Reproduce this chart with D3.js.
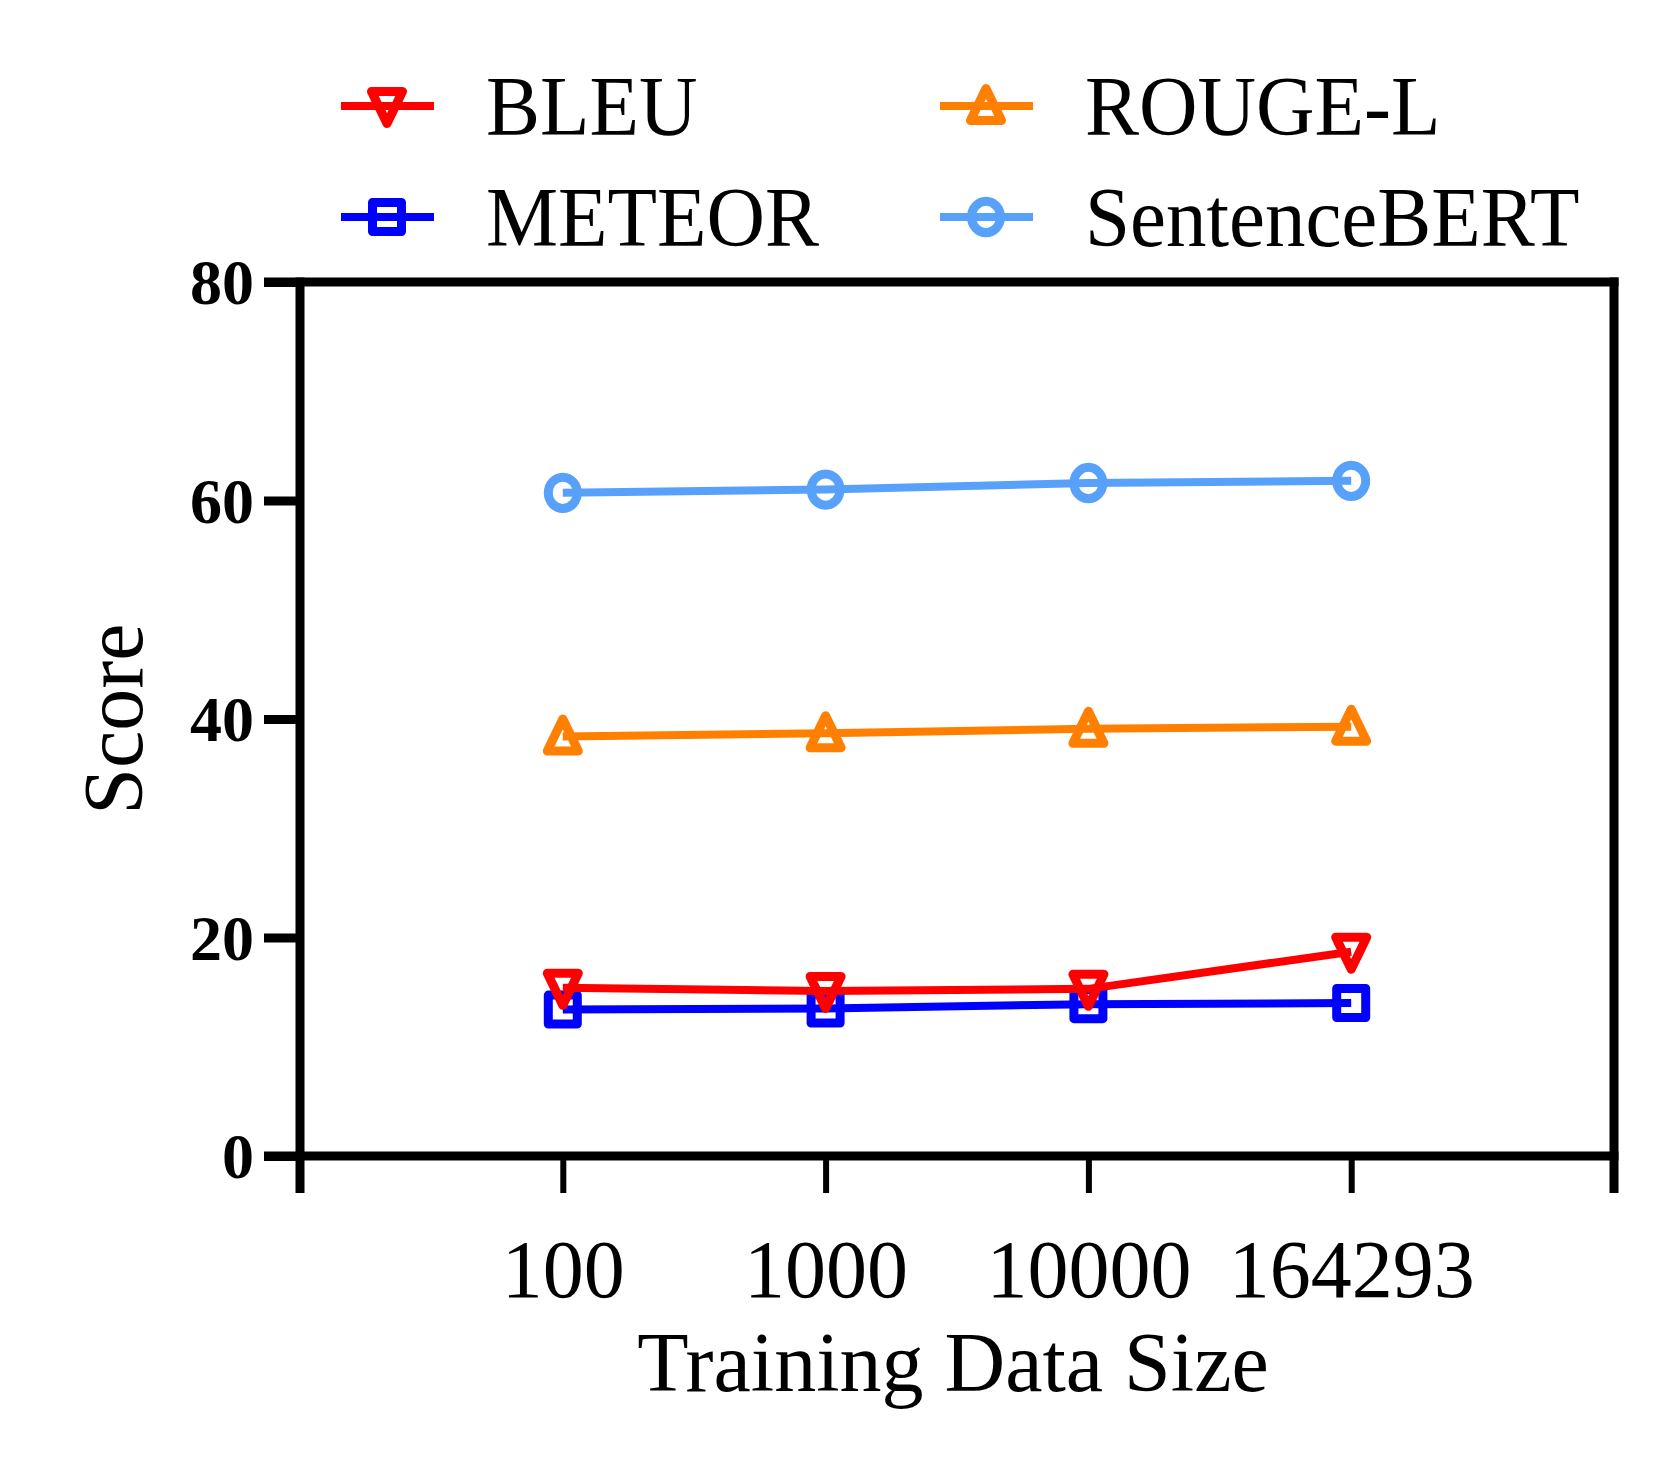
<!DOCTYPE html>
<html>
<head>
<meta charset="utf-8">
<script src="https://cdn.jsdelivr.net/npm/d3@7"></script>
<style>
  html, body { margin: 0; padding: 0; background: #fff; }
  text { font-family: "Liberation Serif", "Times New Roman", serif; }
</style>
</head>
<body>
<svg id="chart" width="1659" height="1474"></svg>
<script>
// ---- data ----
const categories = ["100", "1000", "10000", "164293"];
const bleu = [15.4, 15.1, 15.3, 18.7];
const meteor = [13.4, 13.5, 13.9, 14.0];
const rougeL = [38.4, 38.7, 39.1, 39.3];
const sentenceBert = [60.7, 61.0, 61.6, 61.8];
const yTicks = [0, 20, 40, 60, 80];
const seriesNames = ["BLEU", "METEOR", "ROUGE-L", "SentenceBERT"];

const series = [
  { name: "SentenceBERT", values: sentenceBert, color: "#58A1FA", marker: "circle" },
  { name: "ROUGE-L", values: rougeL, color: "#FF8000", marker: "triUp" },
  { name: "METEOR", values: meteor, color: "#0000FF", marker: "square" },
  { name: "BLEU", values: bleu, color: "#FF0000", marker: "triDown" }
];

const svg = d3.select("#chart");
const L = 300, R = 1614, T = 282, B = 1156;

const x = d3.scalePoint().domain(categories).range([L, R]).padding(1);
const y = d3.scaleLinear().domain([0, 80]).range([B, T]);

const axisW = 9;

// y axis ticks
const gy = svg.append("g").attr("transform", `translate(${L},0)`)
  .call(d3.axisLeft(y).tickValues(yTicks).tickSize(36).tickSizeOuter(0).tickPadding(10));
gy.select(".domain").remove();
gy.selectAll(".tick line").attr("stroke", "#000").attr("stroke-width", axisW);
gy.selectAll(".tick text")
  .attr("font-size", 64).attr("font-weight", "bold").attr("fill", "#000")
  .attr("font-family", "Liberation Serif").attr("dy", "0.34em");

// x axis ticks
const gx = svg.append("g").attr("transform", `translate(0,${B})`)
  .call(d3.axisBottom(x).tickSize(37).tickSizeOuter(0).tickPadding(46));
gx.select(".domain").remove();
gx.selectAll(".tick line").attr("stroke", "#000").attr("stroke-width", 6);
gx.selectAll(".tick text")
  .attr("font-size", 82).attr("fill", "#000").attr("font-family", "Liberation Serif");

// frame
const frame = svg.append("g").attr("stroke", "#000").attr("stroke-width", axisW).attr("fill", "none");
frame.append("line").attr("x1", L - 36).attr("x2", R + axisW / 2).attr("y1", T).attr("y2", T);
frame.append("line").attr("x1", L - 36).attr("x2", R + axisW / 2).attr("y1", B).attr("y2", B);
frame.append("line").attr("x1", L).attr("x2", L).attr("y1", T - axisW / 2).attr("y2", B + 37);
frame.append("line").attr("x1", R).attr("x2", R).attr("y1", T - axisW / 2).attr("y2", B + 37);

// axis titles
svg.append("text").attr("x", (L + R) / 2 - 4).attr("y", 1391).attr("text-anchor", "middle")
  .attr("font-size", 84).attr("fill", "#000").text("Training Data Size");
svg.append("text").attr("transform", `translate(142,${(T + B) / 2}) rotate(-90)`)
  .attr("text-anchor", "middle").attr("font-size", 84).attr("fill", "#000").text("Score");

// marker
function drawMarker(g, type, cx, cy, color) {
  const s = 14.5;
  const sw = 9;
  if (type === "circle") {
    g.append("ellipse").attr("cx", cx).attr("cy", cy).attr("rx", s).attr("ry", s * 1.08)
      .attr("fill", "none").attr("stroke", color).attr("stroke-width", sw);
  } else if (type === "square") {
    g.append("rect").attr("x", cx - s).attr("y", cy - s).attr("width", 2 * s).attr("height", 2 * s)
      .attr("fill", "none").attr("stroke", color).attr("stroke-width", sw).attr("stroke-linejoin", "round");
  } else if (type === "triUp") {
    g.append("path").attr("d", `M${cx},${cy - s - 3} L${cx + s + 1},${cy + s} L${cx - s - 1},${cy + s} Z`)
      .attr("fill", "none").attr("stroke", color).attr("stroke-width", sw).attr("stroke-linejoin", "round");
  } else {
    g.append("path").attr("d", `M${cx},${cy + s + 3} L${cx + s + 1},${cy - s} L${cx - s - 1},${cy - s} Z`)
      .attr("fill", "none").attr("stroke", color).attr("stroke-width", sw).attr("stroke-linejoin", "round");
  }
}

const line = d3.line().x((d, i) => x(categories[i])).y(d => y(d));
series.forEach(s => {
  const g = svg.append("g");
  g.append("path").datum(s.values).attr("d", line)
    .attr("fill", "none").attr("stroke", s.color).attr("stroke-width", 8);
  s.values.forEach((v, i) => drawMarker(g, s.marker, x(categories[i]), y(v), s.color));
});

// legend
const legendPos = {
  "BLEU": [341, 106], "METEOR": [341, 217],
  "ROUGE-L": [940, 106], "SentenceBERT": [940, 217]
};
seriesNames.forEach(name => {
  const s = series.find(d => d.name === name);
  const [lx, ly] = legendPos[name];
  const g = svg.append("g");
  g.append("line").attr("x1", lx).attr("x2", lx + 93).attr("y1", ly).attr("y2", ly)
    .attr("stroke", s.color).attr("stroke-width", 8);
  drawMarker(g, s.marker, lx + 46, ly, s.color);
  g.append("text").attr("transform", `translate(${lx + 145},${ly + 29}) scale(1,1.05)`)
    .attr("font-size", 81).attr("fill", "#000").text(name);
});
</script>
</body>
</html>
